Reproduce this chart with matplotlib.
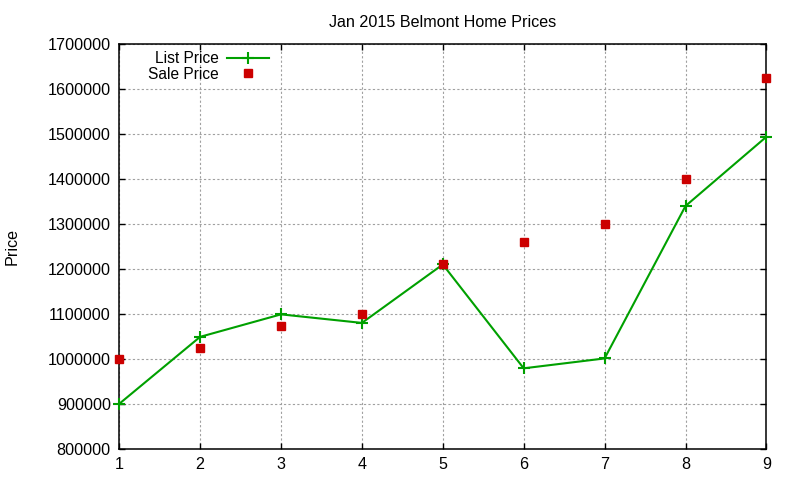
import matplotlib
matplotlib.use("Agg")
import matplotlib.pyplot as plt

# Jan 2015 Belmont home prices
house = [1, 2, 3, 4, 5, 6, 7, 8, 9]
list_price = [900000, 1049000, 1099000, 1080000, 1210000, 979000, 1001000, 1340000, 1494000]
sale_price = [1000000, 1025000, 1074000, 1100000, 1210000, 1259000, 1300000, 1400000, 1624000]
y_ticks = [800000, 900000, 1000000, 1100000, 1200000, 1300000, 1400000, 1500000, 1600000, 1700000]

plt.rcParams['font.family'] = ['Liberation Sans', 'DejaVu Sans']
fs = 11.6

fig = plt.figure(figsize=(8, 4.8), dpi=100)
ax = fig.add_axes([0.149, 0.065, 0.809, 0.843])

ax.plot(house, list_price, color='#00a000', linewidth=1.5, marker='+',
        markersize=8, markeredgewidth=1.5, label='List Price', clip_on=False, zorder=3)
ax.plot(house, sale_price, color='#cc0000', linestyle='none', marker='s',
        markersize=5.8, label='Sale Price', clip_on=False, zorder=4)

ax.set_xlim(1, 9)
ax.set_ylim(800000, 1700000)
ax.set_xticks(house)
ax.set_yticks(y_ticks)
ax.set_yticklabels([str(v) for v in y_ticks])

ax.grid(True, color='#a0a0a0', linestyle=(0, (2, 2)), linewidth=0.8)
ax.set_axisbelow(True)
ax.tick_params(direction='in', top=True, right=True, length=4, width=1,
               labelsize=fs, colors='black', pad=6)
for s in ax.spines.values():
    s.set_linewidth(1.1)

ax.set_title('Jan 2015 Belmont Home Prices', fontsize=fs, pad=12)
ax.set_ylabel('Price', fontsize=fs, labelpad=20)

ax.legend(loc='upper left', bbox_to_anchor=(0.03, 1.005), frameon=False, markerfirst=False,
          handlelength=2.7, borderaxespad=0.2, labelspacing=0.02, handletextpad=0.55,
          fontsize=11.2)

fig.savefig('out.png', dpi=100)
